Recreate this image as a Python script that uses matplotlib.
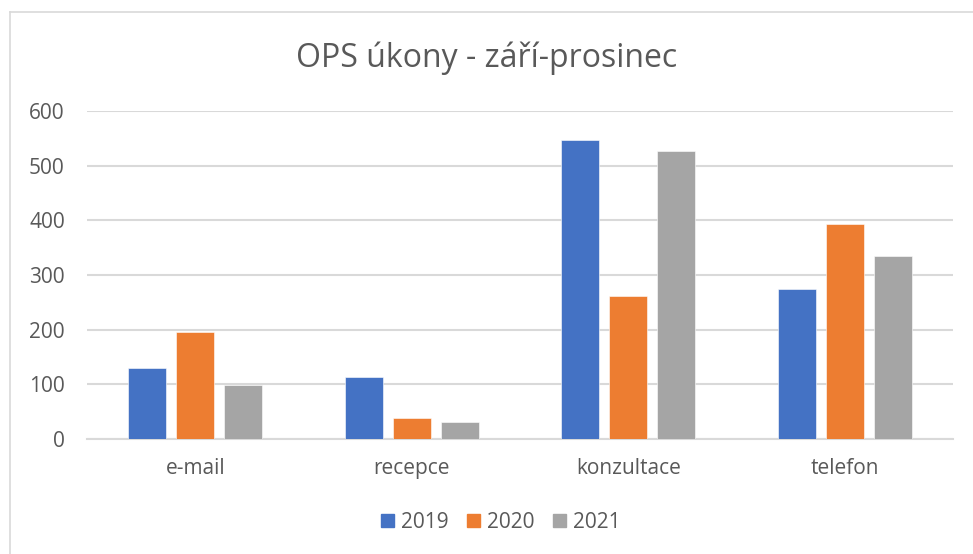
import numpy as np
import matplotlib
matplotlib.use('Agg')
import matplotlib.pyplot as plt
from matplotlib.patches import Patch
from matplotlib.lines import Line2D

categories = ['e-mail', 'recepce', 'konzultace', 'telefon']
years = ['2019', '2020', '2021']
vals_2019 = [129, 113, 547, 274]
vals_2020 = [196, 38, 262, 394]
vals_2021 = [98, 32, 527, 334]

colors = ['#4472C4', '#ED7D31', '#A5A5A5']  # excel office palette
text_col = '#595959'
grid_col = '#D9D9D9'

plt.rcParams['font.family'] = ['Open Sans', 'DejaVu Sans']

fig = plt.figure(figsize=(9.73, 5.54), dpi=100)
ax = fig.add_axes([87/973, 1-439/554, (953-87)/973, (439-111)/554])

x = np.arange(len(categories))
width = 0.175
step = 0.222
for i, vals in enumerate([vals_2019, vals_2020, vals_2021]):
    ax.bar(x + (i-1)*step, vals, width, color=colors[i], label=years[i],
           edgecolor='white', linewidth=0.4, zorder=3)

ax.set_xlim(-0.5, len(categories)-0.5)
ax.set_ylim(0, 600)
ax.set_yticks(range(0, 601, 100))
ax.set_xticks(x)
ax.set_xticklabels(categories)
ax.yaxis.grid(True, color=grid_col, linewidth=1.5, zorder=0)
ax.tick_params(axis='y', length=0, pad=16, labelsize=15, labelcolor=text_col)
ax.tick_params(axis='x', length=0, pad=14, labelsize=15, labelcolor=text_col)
for s in ['top', 'right', 'left']:
    ax.spines[s].set_visible(False)
ax.spines['bottom'].set_color(grid_col)
ax.spines['bottom'].set_linewidth(1.5)

fig.text(0.5, 1-58/554, 'OPS úkony - září-prosinec', ha='center', va='center',
         fontsize=23, color=text_col)

handles = [Patch(color=c, label=y) for c, y in zip(colors, years)]
fig.legend(handles=handles, loc='center', bbox_to_anchor=(501/973, 1-522/554),
           ncol=3, frameon=False, fontsize=15, handlelength=0.6, handleheight=0.6,
           handletextpad=0.35, columnspacing=0.9, labelcolor=text_col)

# chart frame (only top and left edges visible in the crop)
fig.add_artist(Line2D([10/973, 10/973], [0, 1-12/554], color=grid_col, lw=1.2))
fig.add_artist(Line2D([10/973, 1], [1-12/554, 1-12/554], color=grid_col, lw=1.2))

fig.savefig('out.png', dpi=100)
